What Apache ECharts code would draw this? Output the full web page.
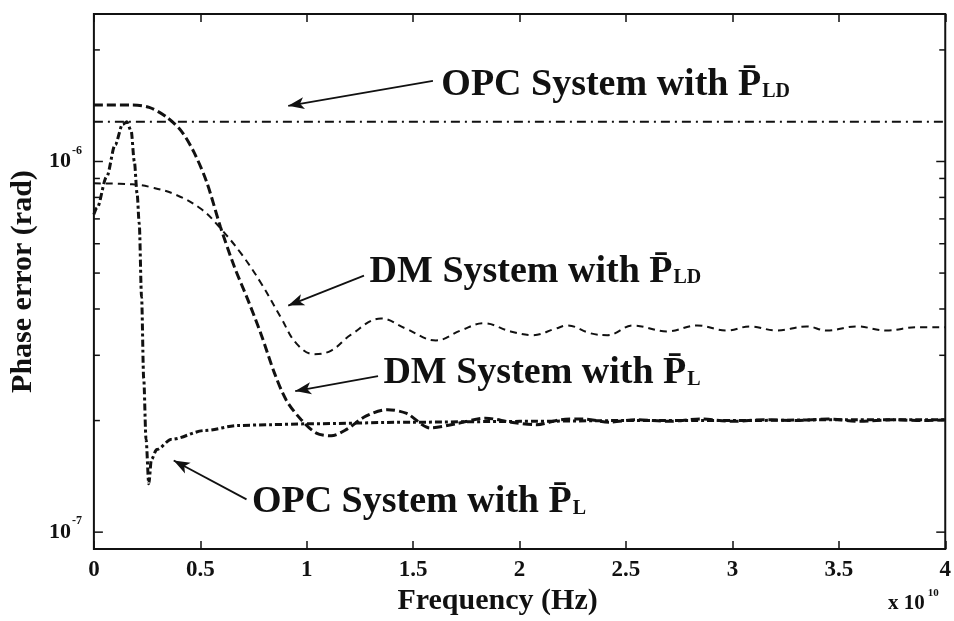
<!DOCTYPE html>
<html>
<head>
<meta charset="utf-8">
<script src="https://cdn.jsdelivr.net/npm/echarts@6.0.0/dist/echarts.min.js"></script>
<style>
  html, body { margin: 0; padding: 0; background: #fff; }
  #chart { width: 954px; height: 621px; }
</style>
</head>
<body>
<div id="chart"></div>
<script>
// frequency in units of 1e10 Hz, phase error in rad
var opcLD = [[0, 1.28e-6], [1, 1.28e-6], [2, 1.28e-6], [3, 1.28e-6], [4, 1.28e-6]];

var opcL = [
  [0, 7.2e-7], [0.015, 7.5e-7], [0.06, 9.1e-7], [0.1, 1.11e-6], [0.135, 1.26e-6],
  [0.155, 1.28e-6], [0.175, 1.21e-6], [0.19, 1.0e-6], [0.203, 8.2e-7], [0.213, 6.8e-7],
  [0.224, 4.3e-7], [0.234, 2.6e-7], [0.245, 1.78e-7], [0.258, 1.35e-7], [0.27, 1.57e-7],
  [0.295, 1.67e-7], [0.365, 1.78e-7], [0.52, 1.88e-7], [0.68, 1.94e-7], [0.83, 1.95e-7],
  [1.0, 1.96e-7], [1.5, 1.98e-7], [2.0, 1.99e-7], [2.5, 2.0e-7], [3.0, 2.0e-7],
  [3.5, 2.01e-7], [4.0, 2.01e-7]
];

var dmLD = [
  [0, 8.73e-7], [0.18, 8.68e-7], [0.27, 8.52e-7], [0.39, 8.11e-7], [0.506, 7.43e-7],
  [0.59, 6.65e-7], [0.693, 5.63e-7], [0.787, 4.68e-7], [0.881, 3.77e-7], [0.951, 3.23e-7],
  [1.035, 3.02e-7], [1.115, 3.09e-7], [1.208, 3.41e-7], [1.349, 3.77e-7], [1.466, 3.54e-7],
  [1.607, 3.29e-7], [1.724, 3.50e-7], [1.831, 3.66e-7], [1.958, 3.48e-7], [2.061, 3.40e-7],
  [2.169, 3.54e-7], [2.225, 3.61e-7], [2.333, 3.44e-7], [2.412, 3.40e-7], [2.534, 3.61e-7],
  [2.693, 3.48e-7], [2.834, 3.61e-7], [2.974, 3.50e-7], [3.082, 3.59e-7], [3.208, 3.50e-7],
  [3.349, 3.59e-7], [3.443, 3.50e-7], [3.583, 3.59e-7], [3.724, 3.50e-7], [3.864, 3.57e-7],
  [4.0, 3.57e-7]
];

var dmL = [
  [0, 1.42e-6], [0.18, 1.42e-6], [0.26, 1.40e-6], [0.34, 1.32e-6], [0.41, 1.21e-6],
  [0.47, 1.06e-6], [0.53, 8.8e-7], [0.595, 6.65e-7], [0.66, 5.2e-7], [0.726, 4.2e-7],
  [0.787, 3.4e-7], [0.848, 2.69e-7], [0.904, 2.27e-7], [0.974, 2.01e-7], [1.045, 1.85e-7],
  [1.115, 1.82e-7], [1.185, 1.89e-7], [1.28, 2.06e-7], [1.38, 2.14e-7], [1.47, 2.09e-7],
  [1.58, 1.91e-7], [1.70, 1.96e-7], [1.84, 2.03e-7], [1.96, 1.98e-7], [2.08, 1.95e-7],
  [2.19, 2.01e-7], [2.3, 2.02e-7], [2.42, 1.98e-7], [2.55, 2.01e-7], [2.7, 1.99e-7],
  [2.85, 2.02e-7], [3.0, 1.99e-7], [3.15, 2.01e-7], [3.3, 2.0e-7], [3.45, 2.02e-7],
  [3.6, 1.99e-7], [3.75, 2.01e-7], [3.9, 2.0e-7], [4.0, 2.01e-7]
];

var yMajorTicks = [1e-7, 1e-6];
var yMinorTicks = [2e-7, 3e-7, 4e-7, 5e-7, 6e-7, 7e-7, 8e-7, 9e-7, 2e-6];

// annotation anchors, in data coordinates
var notes = [
  { text: 'OPC System with P\u0304', sub: 'LD', at: [1.63, 1.61e-6], from: [1.593, 1.649e-6], to: [0.913, 1.413e-6] },
  { text: 'DM System with P\u0304', sub: 'LD', at: [1.293, 5.04e-7], from: [1.269, 4.92e-7], to: [0.913, 4.085e-7] },
  { text: 'DM System with P\u0304', sub: 'L', at: [1.358, 2.685e-7], from: [1.335, 2.635e-7], to: [0.946, 2.402e-7] },
  { text: 'OPC System with P\u0304', sub: 'L', at: [0.74, 1.203e-7], from: [0.717, 1.226e-7], to: [0.375, 1.56e-7] }
];

var FONT = 'Liberation Serif';
var INK = '#111';

function arrow(n) {
  return {
    silent: true,
    symbol: ['none', 'arrow'],
    symbolSize: [9, 16],
    lineStyle: { type: 'solid', width: 1.8, color: INK },
    label: { show: false },
    data: [[{ coord: n.from }, { coord: n.to }]]
  };
}

function note(n) {
  return {
    silent: true,
    symbol: 'circle',
    symbolSize: 1,
    itemStyle: { color: 'rgba(0,0,0,0)' },
    label: {
      show: true,
      position: 'right',
      distance: 0,
      formatter: '{m|' + n.text + '}{s|' + n.sub + '}',
      rich: {
        m: { fontFamily: FONT, fontWeight: 'bold', fontSize: 38, color: INK },
        s: { fontFamily: FONT, fontWeight: 'bold', fontSize: 20, color: INK, padding: [13, 0, 0, 1] }
      }
    },
    data: [{ coord: n.at }]
  };
}

var tickData = yMajorTicks.map(function (v) { return [0, v, 9]; })
  .concat(yMinorTicks.map(function (v) { return [0, v, 6]; }));

var chart = echarts.init(document.getElementById('chart'));

var option = {
  animation: false,
  backgroundColor: '#fff',
  grid: { left: 92, right: 8, top: 14, bottom: 68, show: true, borderColor: INK, borderWidth: 2 },
  xAxis: [
    {
      type: 'value', min: 0, max: 4, interval: 0.5,
      name: 'Frequency (Hz)', nameLocation: 'middle', nameGap: 36,
      nameTextStyle: { fontFamily: FONT, fontWeight: 'bold', fontSize: 30, color: INK, padding: [0, 44, 0, 0] },
      axisLine: { show: false },
      axisTick: { inside: true, length: 8, lineStyle: { color: INK, width: 1.5 } },
      axisLabel: { fontFamily: FONT, fontWeight: 'bold', fontSize: 23, color: INK, margin: 9 },
      splitLine: { show: false }
    },
    {
      type: 'value', min: 0, max: 4, interval: 0.5, position: 'top',
      axisLine: { show: false },
      axisTick: { inside: true, length: 8, lineStyle: { color: INK, width: 1.5 } },
      axisLabel: { show: false },
      splitLine: { show: false }
    }
  ],
  yAxis: {
    type: 'log', min: 9e-8, max: 2.5e-6,
    name: 'Phase error (rad)', nameLocation: 'middle', nameGap: 52, nameRotate: 90,
    nameTextStyle: { fontFamily: FONT, fontWeight: 'bold', fontSize: 30, color: INK },
    axisLine: { show: false },
    axisTick: { show: false },
    splitLine: { show: false },
    axisLabel: {
      margin: 12,
      showMinLabel: false,
      showMaxLabel: false,
      formatter: function (v) {
        var e = Math.log10(v);
        if (Math.abs(e - Math.round(e)) > 1e-6) return '';
        return '{b|10}{e|' + Math.round(e) + '}';
      },
      rich: {
        b: { fontFamily: FONT, fontWeight: 'bold', fontSize: 22, color: INK },
        e: { fontFamily: FONT, fontWeight: 'bold', fontSize: 12, color: INK, padding: [0, 0, 22, 1] }
      }
    }
  },
  graphic: [
    {
      type: 'text', left: 888, top: 588,
      style: {
        text: '{a|x 10}{e|10}',
        rich: {
          a: { fontFamily: FONT, fontWeight: 'bold', fontSize: 21, fill: INK },
          e: { fontFamily: FONT, fontWeight: 'bold', fontSize: 11, fill: INK, padding: [0, 0, 20, 3] }
        }
      }
    }
  ],
  series: [
    {
      name: 'OPC LD', type: 'line', data: opcLD, showSymbol: false, silent: true,
      lineStyle: { color: INK, width: 2, type: [9, 5, 2, 5] },
      markLine: arrow(notes[0]), markPoint: note(notes[0])
    },
    {
      name: 'OPC L', type: 'line', data: opcL, showSymbol: false, silent: true, smooth: 0.3, smoothMonotone: 'x',
      lineStyle: { color: INK, width: 3, type: [7, 3, 3, 3] },
      markLine: arrow(notes[3]), markPoint: note(notes[3])
    },
    {
      name: 'DM LD', type: 'line', data: dmLD, showSymbol: false, silent: true, smooth: 0.4,
      lineStyle: { color: INK, width: 2, type: [7, 5] },
      markLine: arrow(notes[1]), markPoint: note(notes[1])
    },
    {
      name: 'DM L', type: 'line', data: dmL, showSymbol: false, silent: true, smooth: 0.3,
      lineStyle: { color: INK, width: 3, type: [9, 4] },
      markLine: arrow(notes[2]), markPoint: note(notes[2])
    },
    {
      name: 'y ticks', type: 'custom', data: tickData, silent: true, clip: false, z: 10,
      renderItem: function (params, api) {
        var cs = params.coordSys;
        var y = api.coord([0, api.value(1)])[1];
        var len = api.value(2);
        var st = { stroke: INK, lineWidth: 1.5 };
        return {
          type: 'group',
          children: [
            { type: 'line', shape: { x1: cs.x, y1: y, x2: cs.x + len, y2: y }, style: st },
            { type: 'line', shape: { x1: cs.x + cs.width, y1: y, x2: cs.x + cs.width - len, y2: y }, style: st }
          ]
        };
      }
    }
  ]
};

chart.setOption(option);
</script>
</body>
</html>
